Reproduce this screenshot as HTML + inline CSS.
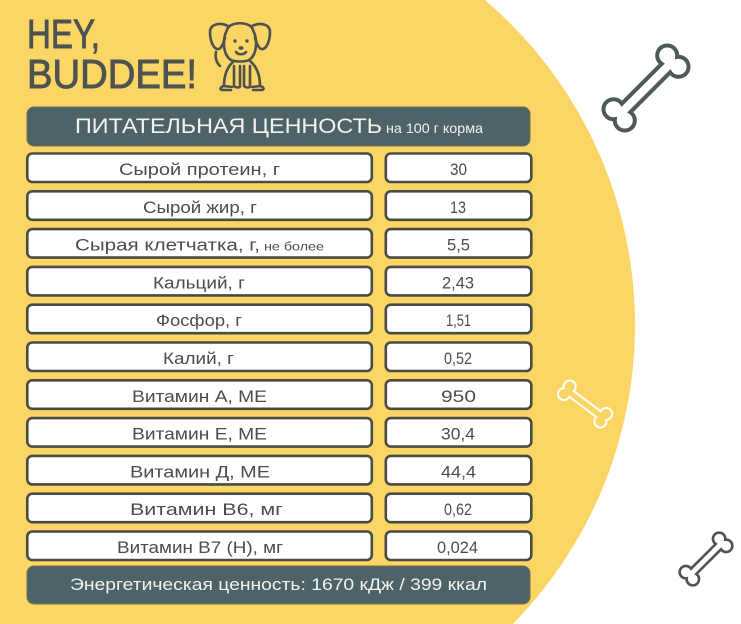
<!DOCTYPE html>
<html><head><meta charset="utf-8"><style>
html,body{margin:0;padding:0;background:#fff;width:741px;height:624px;overflow:hidden;}
svg{display:block;position:absolute;left:0;top:0;overflow:hidden;}
text{font-family:"Liberation Sans","DejaVu Sans",sans-serif;}
</style></head><body>
<svg width="741" height="624" viewBox="0 0 741 624" xmlns="http://www.w3.org/2000/svg">
<rect width="741" height="624" fill="#ffffff"/>
<path d="M0,0 L485,0 A427 427 0 0 1 512.8,624 L0,624 Z" fill="#fbd665"/>

<!-- Logo -->
<text x="27" y="48" font-size="41" fill="#4d5350" stroke="#4d5350" stroke-width="0.9" textLength="73" lengthAdjust="spacingAndGlyphs">HEY,</text>
<text x="27" y="88" font-size="41" fill="#4d5350" stroke="#4d5350" stroke-width="0.9" textLength="170" lengthAdjust="spacingAndGlyphs">BUDDEE!</text>

<!-- Dog -->
<g fill="none" stroke="#4d524f" stroke-width="2.6" stroke-linecap="round" stroke-linejoin="round">
  <path d="M227,30 C229,21 251,21 253,30 C258,40 257,55 249,60 C245,62 235,62 231,60 C223,55 222,40 227,30 Z"/>
  <path d="M228,26 C220,22 210,24 210,32 C210,40 213,48 217,49 C221,50 223,44 225,38"/>
  <path d="M252,26 C260,22 270,24 270,32 C270,40 267,48 263,49 C259,50 257,44 255,38"/>
  <path d="M236,52 C238,55 244,55 246,52"/>
  <path d="M234,61 C228,66 224,74 224,86 L232,87 M250,61 C256,66 260,74 260,86 L252,87"/>
  <path d="M234,66 L234,86 C236,88 240,88 240,86 L240,66 M244,66 L244,86 C246,88 250,88 250,86 L250,66"/>
  <path d="M224,86 C220,87 219,90 223,90 L231,90 M260,86 C264,87 265,90 261,90 L253,90"/>
  <path d="M216,52 C215,57 216,62 220,66"/>
</g>
<circle cx="235" cy="41" r="1.7" fill="#4d524f"/>
<circle cx="247" cy="41" r="1.7" fill="#4d524f"/>
<ellipse cx="241" cy="48" rx="2.6" ry="1.9" fill="#4d524f"/>

<!-- Bones -->
<defs>
<path id="bone" d="M-28.2,-6 L28.2,-6 A10 10 0 1 1 44,0 A10 10 0 1 1 28.2,6 L-28.2,6 A10 10 0 1 1 -44,0 A10 10 0 1 1 -28.2,-6 Z"/>
</defs>
<g transform="translate(646,88) rotate(-45)"><use href="#bone" fill="#ffffff" stroke="#4e5a5a" stroke-width="4"/></g>
<g transform="translate(585,404) rotate(37) scale(0.6)"><use href="#bone" fill="none" stroke="#ffffff" stroke-width="3.2"/></g>
<g transform="translate(706,559) rotate(-45) scale(0.62)"><use href="#bone" fill="#ffffff" stroke="#4e5452" stroke-width="4.2"/></g>

<!-- Header bar -->
<rect x="27" y="107" width="503" height="39" rx="7" fill="#4e6367" stroke="#75704c" stroke-width="1"/>
<text x="75" y="133" font-size="21" fill="#f3f3ef" textLength="307" lengthAdjust="spacingAndGlyphs">ПИТАТЕЛЬНАЯ ЦЕННОСТЬ</text>
<text x="386" y="133" font-size="14" fill="#f3f3ef" textLength="97" lengthAdjust="spacingAndGlyphs">на 100 г корма</text>

<!-- Rows -->
<g fill="#ffffff" stroke="#4a4c44" stroke-width="2.6">
  <rect x="27.3" y="153.5" width="344.5" height="28.5" rx="5"/><rect x="385.8" y="153.5" width="145.5" height="28.5" rx="5"/>
  <rect x="27.3" y="191.3" width="344.5" height="28.5" rx="5"/><rect x="385.8" y="191.3" width="145.5" height="28.5" rx="5"/>
  <rect x="27.3" y="229.1" width="344.5" height="28.5" rx="5"/><rect x="385.8" y="229.1" width="145.5" height="28.5" rx="5"/>
  <rect x="27.3" y="266.9" width="344.5" height="28.5" rx="5"/><rect x="385.8" y="266.9" width="145.5" height="28.5" rx="5"/>
  <rect x="27.3" y="304.7" width="344.5" height="28.5" rx="5"/><rect x="385.8" y="304.7" width="145.5" height="28.5" rx="5"/>
  <rect x="27.3" y="342.5" width="344.5" height="28.5" rx="5"/><rect x="385.8" y="342.5" width="145.5" height="28.5" rx="5"/>
  <rect x="27.3" y="380.3" width="344.5" height="28.5" rx="5"/><rect x="385.8" y="380.3" width="145.5" height="28.5" rx="5"/>
  <rect x="27.3" y="418.1" width="344.5" height="28.5" rx="5"/><rect x="385.8" y="418.1" width="145.5" height="28.5" rx="5"/>
  <rect x="27.3" y="455.9" width="344.5" height="28.5" rx="5"/><rect x="385.8" y="455.9" width="145.5" height="28.5" rx="5"/>
  <rect x="27.3" y="493.7" width="344.5" height="28.5" rx="5"/><rect x="385.8" y="493.7" width="145.5" height="28.5" rx="5"/>
  <rect x="27.3" y="531.5" width="344.5" height="28.5" rx="5"/><rect x="385.8" y="531.5" width="145.5" height="28.5" rx="5"/>
</g>

<g font-size="17" fill="#4a4c4d">
  <text x="119" y="175" textLength="161" lengthAdjust="spacingAndGlyphs">Сырой протеин, г</text>
  <text x="450" y="175" textLength="17" lengthAdjust="spacingAndGlyphs">30</text>

  <text x="143" y="212.8" textLength="114" lengthAdjust="spacingAndGlyphs">Сырой жир, г</text>
  <text x="450" y="212.8" textLength="16" lengthAdjust="spacingAndGlyphs">13</text>

  <text x="75" y="250.6" textLength="185" lengthAdjust="spacingAndGlyphs">Сырая клетчатка, г,</text>
  <text x="264" y="250.6" font-size="12" textLength="60" lengthAdjust="spacingAndGlyphs">не более</text>
  <text x="447" y="250.6" textLength="23" lengthAdjust="spacingAndGlyphs">5,5</text>

  <text x="153" y="288.4" textLength="92" lengthAdjust="spacingAndGlyphs">Кальций, г</text>
  <text x="442" y="288.4" textLength="32" lengthAdjust="spacingAndGlyphs">2,43</text>

  <text x="156" y="326.2" textLength="86" lengthAdjust="spacingAndGlyphs">Фосфор, г</text>
  <text x="446" y="326.2" textLength="25" lengthAdjust="spacingAndGlyphs">1,51</text>

  <text x="163" y="364" textLength="71" lengthAdjust="spacingAndGlyphs">Калий, г</text>
  <text x="444" y="364" textLength="28" lengthAdjust="spacingAndGlyphs">0,52</text>

  <text x="132" y="401.8" textLength="135" lengthAdjust="spacingAndGlyphs">Витамин А, МЕ</text>
  <text x="441" y="401.8" textLength="35" lengthAdjust="spacingAndGlyphs">950</text>

  <text x="132" y="439.6" textLength="135" lengthAdjust="spacingAndGlyphs">Витамин Е, МЕ</text>
  <text x="441" y="439.6" textLength="34" lengthAdjust="spacingAndGlyphs">30,4</text>

  <text x="130" y="477.4" textLength="140" lengthAdjust="spacingAndGlyphs">Витамин Д, МЕ</text>
  <text x="441" y="477.4" textLength="35" lengthAdjust="spacingAndGlyphs">44,4</text>

  <text x="130" y="515.2" textLength="153" lengthAdjust="spacingAndGlyphs">Витамин В6, мг</text>
  <text x="444" y="515.2" textLength="28" lengthAdjust="spacingAndGlyphs">0,62</text>

  <text x="117" y="553" textLength="166" lengthAdjust="spacingAndGlyphs">Витамин В7 (Н), мг</text>
  <text x="437" y="553" textLength="41" lengthAdjust="spacingAndGlyphs">0,024</text>
</g>

<!-- Bottom bar -->
<rect x="27" y="566" width="503" height="38" rx="7" fill="#4e6367" stroke="#75704c" stroke-width="1"/>
<text x="70" y="590" font-size="17" fill="#f3f3ef" textLength="417" lengthAdjust="spacingAndGlyphs">Энергетическая ценность: 1670 кДж / 399 ккал</text>
</svg>
</body></html>
